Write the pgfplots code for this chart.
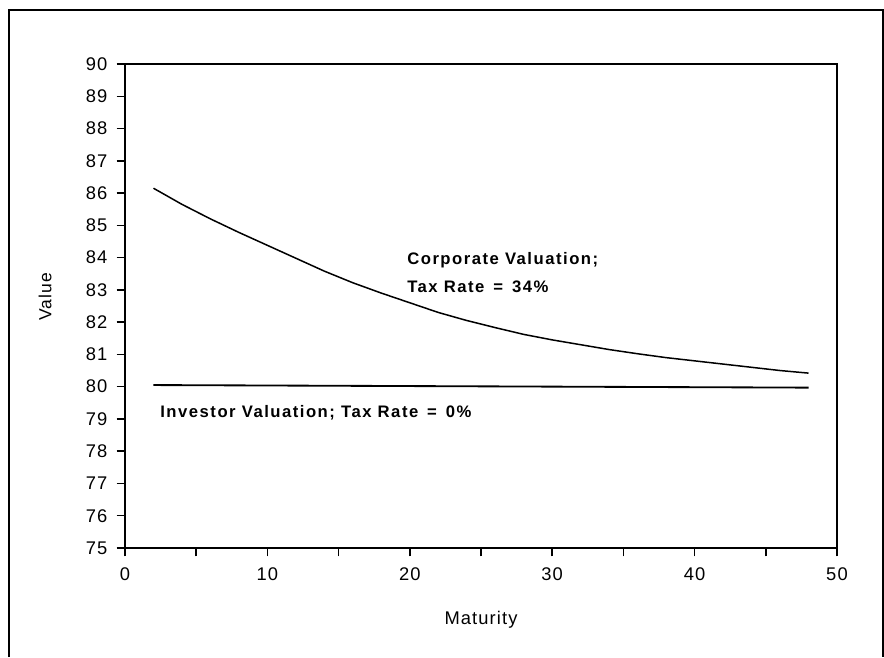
\documentclass[border=0pt]{standalone}
\usepackage{fontspec}
\setmainfont{Liberation Sans}
\usepackage{pgfplots}
\pgfplotsset{compat=1.18}
\pgfplotstableread{
x y
2 86.15
4 85.65
6 85.20
8 84.78
10 84.38
12 83.98
14 83.58
16 83.22
18 82.90
20 82.60
22 82.30
24 82.05
26 81.83
28 81.62
30 81.45
32 81.30
34 81.15
36 81.02
38 80.90
40 80.80
42 80.70
44 80.60
46 80.50
48 80.42
}\corporate
\pgfplotstableread{
x y
2 80.05
25 80.01
48 79.97
}\investor
\newfontfamily\annfont[LetterSpace=9]{Liberation Sans}
\newfontfamily\labfont[LetterSpace=6]{Liberation Sans}
\begin{document}
\begin{tikzpicture}[x=1pt,y=1pt]
\useasboundingbox (0,0) rectangle (530.4,394.2);
\draw[line width=1.1pt] (5.4,0) -- (5.4,388.2) -- (529.8,388.2) -- (529.8,0);
\begin{axis}[
  at={(75pt,65.4pt)}, anchor=south west,
  scale only axis, width=427.2pt, height=290.4pt,
  xmin=0, xmax=50, ymin=75, ymax=90,
  xtick={0,10,...,50}, minor xtick={5,15,...,45},
  ytick={75,76,...,90},
  xtick pos=bottom, ytick pos=left,
  tick align=outside,
  major tick length=5pt, minor tick length=5pt,
  every tick/.style={black, line width=0.9pt},
  axis line style={line width=1.1pt},
  /pgf/number format/assume math mode=true,
  ticklabel style={font=\labfont\fontsize{11}{13}\selectfont},
  xticklabel style={yshift=-3pt},
  yticklabel style={xshift=-2pt},
  clip=false,
]
\addplot[black, line width=0.9pt] table[x=x,y=y] {\corporate};
\addplot[black, line width=1.1pt] table[x=x,y=y] {\investor};
\node[anchor=west, font=\annfont\bfseries\fontsize{10}{12}\selectfont, inner sep=0pt] at (axis cs:19.8,83.91) {Corporate Valuation;};
\node[anchor=west, font=\annfont\bfseries\fontsize{10}{12}\selectfont, inner sep=0pt] at (axis cs:19.8,83.10) {Tax Rate \,=\, 34\%};
\node[anchor=west, font=\annfont\bfseries\fontsize{10}{12}\selectfont, inner sep=0pt] at (axis cs:2.46,79.19) {Investor Valuation; Tax Rate \,=\, 0\%};
\end{axis}
\node[font=\labfont\fontsize{11}{13}\selectfont] at (288.6pt,22.2pt) {Maturity};
\node[rotate=90, font=\labfont\fontsize{10.5}{12}\selectfont] at (27pt,216pt) {Value};
\end{tikzpicture}
\end{document}
